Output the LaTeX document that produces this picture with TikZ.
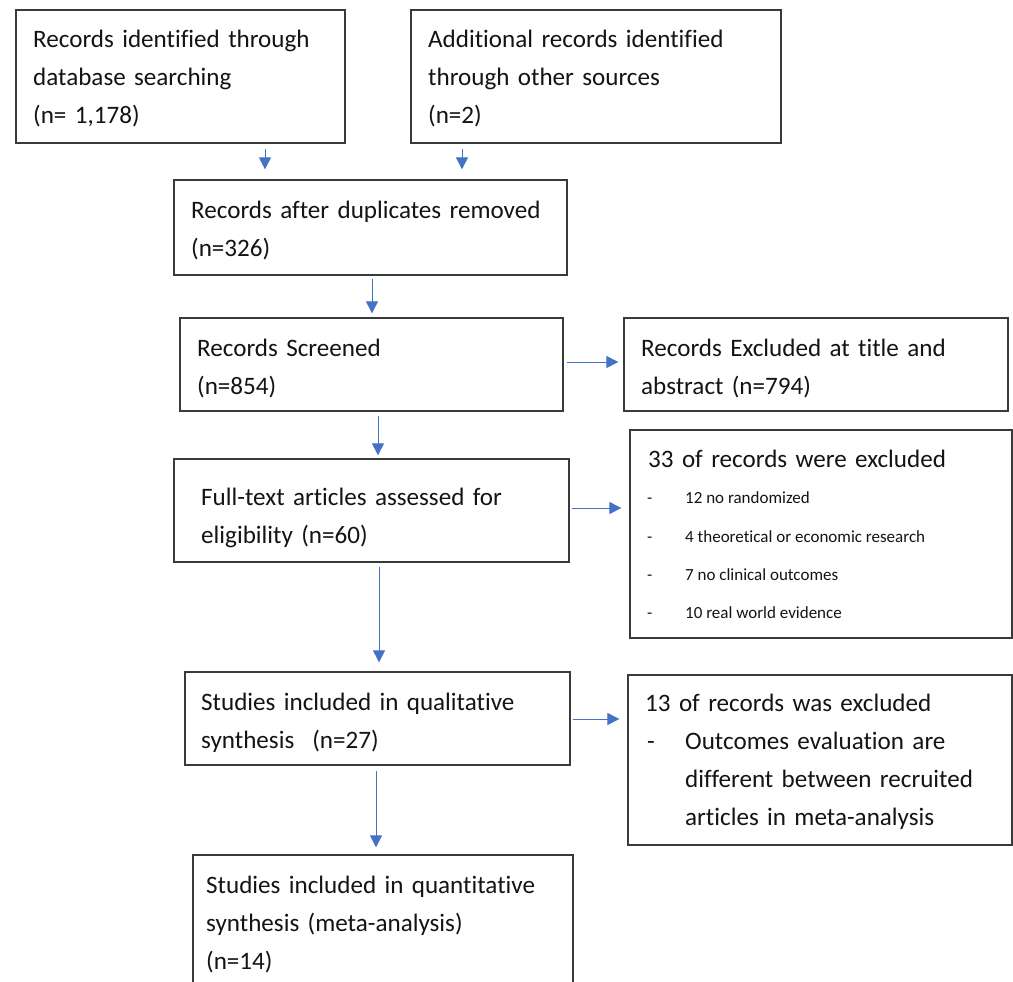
\documentclass[tikz,border=0pt]{standalone}
\usepackage{fontspec}
\setmainfont[Ligatures={NoCommon,NoContextual,NoRare},Contextuals=NoAlternate]{Carlito}
\usetikzlibrary{arrows.meta,fit}
\definecolor{arrowblue}{HTML}{4472C4}
\definecolor{boxline}{HTML}{3A3A3A}
\definecolor{txtc}{HTML}{141414}
\begin{document}
\begin{tikzpicture}[x=1pt,y=-1pt,
  box/.style={draw=boxline, line width=1.3pt, inner sep=0pt},
  txt/.style={anchor=base west, inner sep=0pt, text width=360pt, align=left, text=txtc, font=\fontsize{25.1}{38}\selectfont},
  small/.style={anchor=base west, inner sep=0pt, text=txtc, font=\fontsize{17}{20}\selectfont},
  arr/.style={draw=arrowblue, line width=1pt, -{Triangle[width=12pt,length=12pt]}}]
\useasboundingbox (0,0) rectangle (1013,982);
\clip (0,0) rectangle (1013,982);
\fill[white] (0,0) rectangle (1013,982);

% boxes
\node[box, fit={(16,10) (345,143)}] (b1) {};
\node[box, fit={(411,10) (781,143)}] (b2) {};
\node[box, fit={(174,180) (567,275)}] (b3) {};
\node[box, fit={(180,318) (563,411)}] (b4) {};
\node[box, fit={(624,318) (1008,411)}] (b5) {};
\node[box, fit={(174,459) (569,562)}] (b6) {};
\node[box, fit={(630,430) (1012,638)}] (b7) {};
\node[box, fit={(185,672) (570,765)}] (b8) {};
\node[box, fit={(628,675) (1012,845)}] (b9) {};
\node[box, fit={(193,855) (573,1000)}] (b10) {};

% texts
\node[txt] (t1) at (33,48) {Records identified through\\database searching\\(n= 1,178)};
\node[txt] (t2) at (428,48) {Additional records identified\\through other sources\\(n=2)};
\node[txt] (t3) at (191,218) {Records after duplicates removed\\(n=326)};
\node[txt] (t4) at (197,356) {Records Screened\\(n=854)};
\node[txt] (t5) at (641,356) {Records Excluded at title and\\abstract (n=794)};
\node[txt] (t6) at (201,505) {Full-text articles assessed for\\eligibility (n=60)};
\node[txt, text width=350pt] (t7) at (648,467) {33 of records were excluded};
\node[small] (d1) at (647,503) {-};
\node[small] (i1) at (685,503) {12 no randomized};
\node[small] (d2) at (647,542) {-};
\node[small] (i2) at (685,542) {4 theoretical or economic research};
\node[small] (d3) at (647,580) {-};
\node[small] (i3) at (685,580) {7 no clinical outcomes};
\node[small] (d4) at (647,618) {-};
\node[small] (i4) at (685,618) {10 real world evidence};
\node[txt] (t8) at (201,710) {Studies included in qualitative\\synthesis\hspace{18pt}(n=27)};
\node[txt, text width=350pt] (t9) at (645,711) {13 of records was excluded};
\node[txt, text width=20pt] (d9) at (647,749) {-};
\node[txt, text width=320pt] (t9b) at (685,749) {Outcomes evaluation are\\different between recruited\\articles in meta-analysis};
\node[txt] (t10) at (206,893) {Studies included in quantitative\\synthesis (meta-analysis)\\(n=14)};

% arrow positions
\coordinate (xa) at (265,0);
\coordinate (xb) at (462,0);
\coordinate (xc) at (372,0);
\coordinate (xd) at (378,0);
\coordinate (xe) at (379,0);
\coordinate (xf) at (376,0);
\coordinate (ya) at (0,362);
\coordinate (yb) at (0,508);
\coordinate (yc) at (0,719);

\draw[arr, shorten <=5pt, shorten >=10pt] (b1.south -| xa) -- (b3.north -| xa);
\draw[arr, shorten <=5pt, shorten >=10pt] (b2.south -| xb) -- (b3.north -| xb);
\draw[arr, shorten <=3pt, shorten >=4pt] (b3.south -| xc) -- (b4.north -| xc);
\draw[arr, shorten <=4pt, shorten >=3pt] (b4.south -| xd) -- (b6.north -| xd);
\draw[arr, shorten <=3pt, shorten >=5pt] (b4.east |- ya) -- (b5.west |- ya);
\draw[arr, shorten <=2pt, shorten >=8pt] (b6.east |- yb) -- (b7.west |- yb);
\draw[arr, shorten <=4pt, shorten >=9pt] (b6.south -| xe) -- (b8.north -| xe);
\draw[arr, shorten <=2pt, shorten >=8pt] (b8.east |- yc) -- (b9.west |- yc);
\draw[arr, shorten <=5pt, shorten >=7pt] (b8.south -| xf) -- (b10.north -| xf);
\end{tikzpicture}
\end{document}
